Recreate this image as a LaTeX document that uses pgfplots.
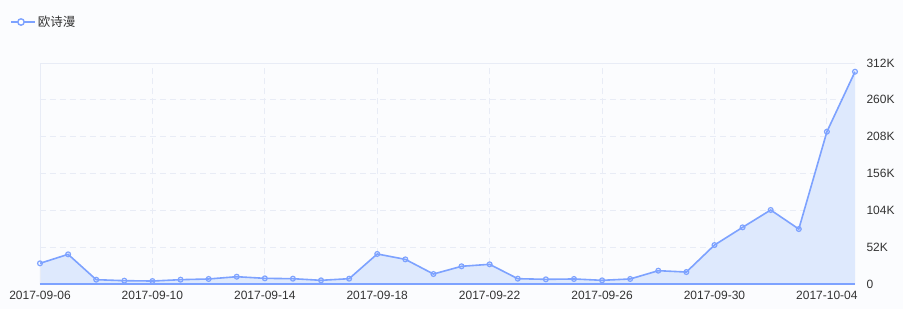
\documentclass[border=0pt]{standalone}
\usepackage{fontspec}
\setmainfont{Liberation Sans}
\newfontfamily\cjk{Noto Sans CJK SC}
\usepackage{pgfplots}
\pgfplotsset{compat=1.18}
\definecolor{bg}{HTML}{FBFCFE}
\definecolor{lineblue}{HTML}{7DA2FF}
\definecolor{fillblue}{HTML}{DEE9FD}
\definecolor{gridc}{HTML}{E8ECF6}
\definecolor{txt}{HTML}{333333}
\begin{document}
\begin{tikzpicture}[x=1pt,y=1pt]
\fill[bg] (0,0) rectangle (903,309);
\begin{axis}[
  at={(40pt,25pt)}, anchor=south west,
  scale only axis, width=815pt, height=221pt,
  xmin=0, xmax=29, ymin=0, ymax=312000,
  scaled y ticks=false,
  axis line style={draw=none},
  xtick={0,4,8,12,16,20,24,28},
  xticklabels={2017-09-06,2017-09-10,2017-09-14,2017-09-18,2017-09-22,2017-09-26,2017-09-30,2017-10-04},
  ytick={0,52000,104000,156000,208000,260000,312000},
  yticklabels={0,52K,104K,156K,208K,260K,312K},
  yticklabel pos=right,
  major tick length=0pt,
  tick style={draw=none},
  grid=major,
  major grid style={gridc, dashed, dash pattern=on 6pt off 4pt, line width=0.8pt},
  ticklabel style={font=\fontsize{12}{14}\selectfont, text=txt},
  xticklabel style={yshift=-4pt},
  yticklabel style={anchor=west, xshift=8pt},
  /pgf/number format/assume math mode=true,
  clip=false,
  legend style={at={(axis description cs:-0.0368,1.1855)}, anchor=west, draw=none, fill=none, inner sep=0pt, font=\fontsize{12.5}{14}\selectfont\cjk, text=txt},
  legend cell align=left,
  legend image code/.code={
    \path (0pt,0pt) -- (24pt,0pt);
    \draw[lineblue, line width=1.6pt] (0pt,0pt) -- (5pt,0pt);
    \draw[lineblue, line width=1.6pt] (15pt,0pt) -- (20pt,0pt);
    \draw[lineblue, line width=1.4pt, fill=white] (10pt,0pt) circle (3.2pt);
  },
]
\addplot[fill=fillblue, draw=none, forget plot] coordinates {
(0,29200) (1,41900) (2,6100) (3,4700) (4,4200) (5,6100) (6,7100) (7,10300) (8,8000) (9,7500)
(10,5200) (11,7500) (12,42400) (13,34800) (14,14100) (15,25000) (16,27800) (17,7500) (18,6600) (19,7100)
(20,5200) (21,7100) (22,18800) (23,16900) (24,55000) (25,80000) (26,104500) (27,77600) (28,215000) (29,299700)
} \closedcycle;
\draw[gridc, line width=0.8pt] (axis cs:0,0) -- (axis cs:0,312000) -- (axis cs:29,312000);
\draw[lineblue, line width=1.2pt] (axis cs:0,0) -- (axis cs:29,0);
\addplot[lineblue, line width=1.6pt, mark=o, mark size=2.4pt, mark options={fill=white, line width=1.2pt, solid}] coordinates {
(0,29200) (1,41900) (2,6100) (3,4700) (4,4200) (5,6100) (6,7100) (7,10300) (8,8000) (9,7500)
(10,5200) (11,7500) (12,42400) (13,34800) (14,14100) (15,25000) (16,27800) (17,7500) (18,6600) (19,7100)
(20,5200) (21,7100) (22,18800) (23,16900) (24,55000) (25,80000) (26,104500) (27,77600) (28,215000) (29,299700)
};
\addlegendentry{欧诗漫}
\end{axis}
\end{tikzpicture}
\end{document}
